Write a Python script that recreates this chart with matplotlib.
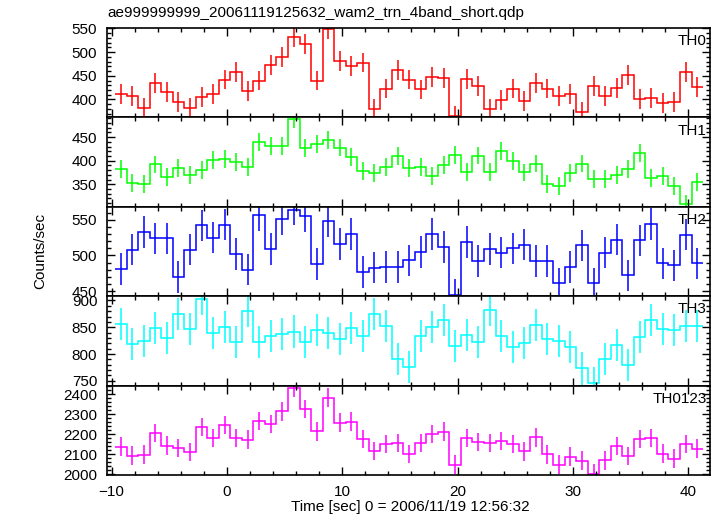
import numpy as np
import matplotlib
matplotlib.use("Agg")
import matplotlib.pyplot as plt
from matplotlib.ticker import MultipleLocator

plt.rcParams['font.family'] = ['Liberation Sans', 'DejaVu Sans']

# time bins (1 s wide)
t_start = -9.7
bin_width = 1.0
n_bins = 51

th0 = [412, 408, 381, 435, 415, 394, 381, 406, 411, 442,
       458, 418, 440, 472, 490, 531, 518, 440, 548, 482,
       471, 478, 379, 423, 462, 442, 421, 448, 445, 366,
       444, 428, 379, 399, 423, 396, 435, 423, 408, 412,
       374, 428, 408, 425, 451, 401, 403, 393, 394, 458, 426]
th1 = [383, 352, 351, 392, 365, 384, 369, 380, 401, 403,
       397, 386, 439, 431, 431, 488, 427, 435, 444, 428,
       408, 379, 373, 386, 410, 385, 387, 368, 390, 412,
       376, 411, 376, 420, 400, 375, 394, 350, 347, 373,
       394, 361, 362, 369, 382, 416, 363, 368, 347, 308, 354]
th2 = [481, 508, 533, 524, 524, 470, 508, 542, 525, 543,
       502, 480, 556, 509, 551, 564, 555, 488, 548, 516,
       530, 477, 483, 484, 484, 493, 505, 530, 512, 445,
       519, 492, 509, 504, 510, 515, 492, 492, 461, 484,
       514, 461, 504, 522, 472, 521, 544, 489, 486, 529, 489]
th3 = [856, 818, 824, 848, 830, 874, 846, 902, 840, 851,
       822, 881, 823, 834, 838, 842, 823, 845, 839, 828,
       848, 834, 874, 853, 791, 775, 834, 850, 863, 815,
       836, 823, 883, 833, 813, 821, 854, 828, 824, 813,
       773, 746, 791, 817, 780, 832, 864, 846, 845, 852, 853]
th0123 = [2136, 2091, 2096, 2205, 2141, 2130, 2110, 2235, 2181, 2245,
          2181, 2171, 2265, 2250, 2314, 2431, 2326, 2213, 2382, 2258,
          2262, 2175, 2115, 2150, 2155, 2100, 2155, 2200, 2212, 2046,
          2180, 2160, 2155, 2165, 2150, 2113, 2183, 2098, 2046, 2086,
          2066, 2001, 2069, 2140, 2090, 2176, 2181, 2101, 2076, 2150, 2126]

errors = [21, 19, 22, 30, 47]
names = ['TH0', 'TH1', 'TH2', 'TH3', 'TH0123']
colors = ['#ff0000', '#00ff00', '#0000ff', '#00ffff', '#ff00ff']
ylims = [(362, 551), (302, 492), (443, 568), (741, 908), (1995, 2443)]
ymajor = [50, 50, 50, 50, 100]
yminor = [10, 10, 10, 10, 20]
series = [th0, th1, th2, th3, th0123]

edges = t_start + bin_width * np.arange(n_bins + 1)
centers = 0.5 * (edges[:-1] + edges[1:])

fig = plt.figure(figsize=(7.17, 5.16), dpi=100)
left, right = 107 / 717, 710 / 717
top, bottom = 1 - 28 / 516, 1 - 475 / 516
h = (top - bottom) / 5

for i in range(5):
    ax = fig.add_axes([left, top - (i + 1) * h, right - left, h])
    vals = np.array(series[i])
    ax.stairs(vals, edges, baseline=None, color=colors[i], lw=1.1)
    ax.errorbar(centers, vals, yerr=errors[i], fmt='none',
                ecolor=colors[i], elinewidth=1.1, capsize=0)
    ax.set_xlim(-10.4, 41.9)
    ax.set_ylim(*ylims[i])
    ax.xaxis.set_major_locator(MultipleLocator(10))
    ax.xaxis.set_minor_locator(MultipleLocator(2))
    ax.yaxis.set_major_locator(MultipleLocator(ymajor[i]))
    ax.yaxis.set_minor_locator(MultipleLocator(yminor[i]))
    ax.tick_params(which='both', direction='in', top=True, right=True,
                   labelsize=11, width=1)
    ax.tick_params(which='major', length=6, pad=7)
    ax.tick_params(which='minor', length=3)
    for sp in ax.spines.values():
        sp.set_linewidth(1.2)
    if i < 4:
        ax.tick_params(labelbottom=False)
    ax.text(0.995, 0.93, names[i], transform=ax.transAxes, ha='right',
            va='top', fontsize=11)

fig.text(107 / 717, 1 - 13 / 516,
         'ae999999999_20061119125632_wam2_trn_4band_short.qdp',
         ha='left', va='center', fontsize=11)
fig.text(40 / 717, 1 - 251 / 516, 'Counts/sec', rotation=90,
         ha='center', va='center', fontsize=11)
fig.text(410 / 717, 1 - 507 / 516, 'Time [sec] 0 = 2006/11/19 12:56:32',
         ha='center', va='center', fontsize=11)

fig.savefig('out.png', dpi=100)
